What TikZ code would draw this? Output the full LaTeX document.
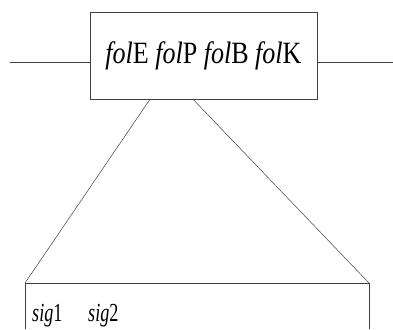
\documentclass[tikz,border=0pt]{standalone}
\usepackage{fontspec}
\setmainfont{Liberation Serif}
\begin{document}
\begin{tikzpicture}[x=1pt,y=1pt,
  line/.style={draw=black!75, line width=0.5pt},
  topbox/.style={line, minimum width=227pt, minimum height=87pt, inner sep=0pt, font=\fontsize{31}{33}\selectfont},
  lbl/.style={anchor=base west, inner sep=0pt, font=\fontsize{26}{28}\selectfont}]
\useasboundingbox (0,0) rectangle (393,329);
\node[topbox] (top) at (203.5,273.5) {\scalebox{0.84}[1]{\textit{fol}E \textit{fol}P \textit{fol}B \textit{fol}K}};
\coordinate (lend) at (10,267);
\coordinate (rend) at (393,267);
\draw[line] (lend) -- (top.west |- lend);
\draw[line] (top.east |- rend) -- (rend);
\coordinate (bl) at (25,46);
\coordinate (br) at (369,46);
\coordinate (bl0) at (25,0);
\coordinate (br0) at (369,0);
\draw[line] (top.south -| 150,0) -- (bl);
\draw[line] (top.south -| 193,0) -- (br);
\draw[line] (bl0) -- (bl) -- (br) -- (br0);
\node[lbl] (s1) at (32,8) {\scalebox{0.7}[1]{\textit{sig}1}};
\node[lbl] (s2) at (88,8) {\scalebox{0.7}[1]{\textit{sig}2}};
\end{tikzpicture}
\end{document}
